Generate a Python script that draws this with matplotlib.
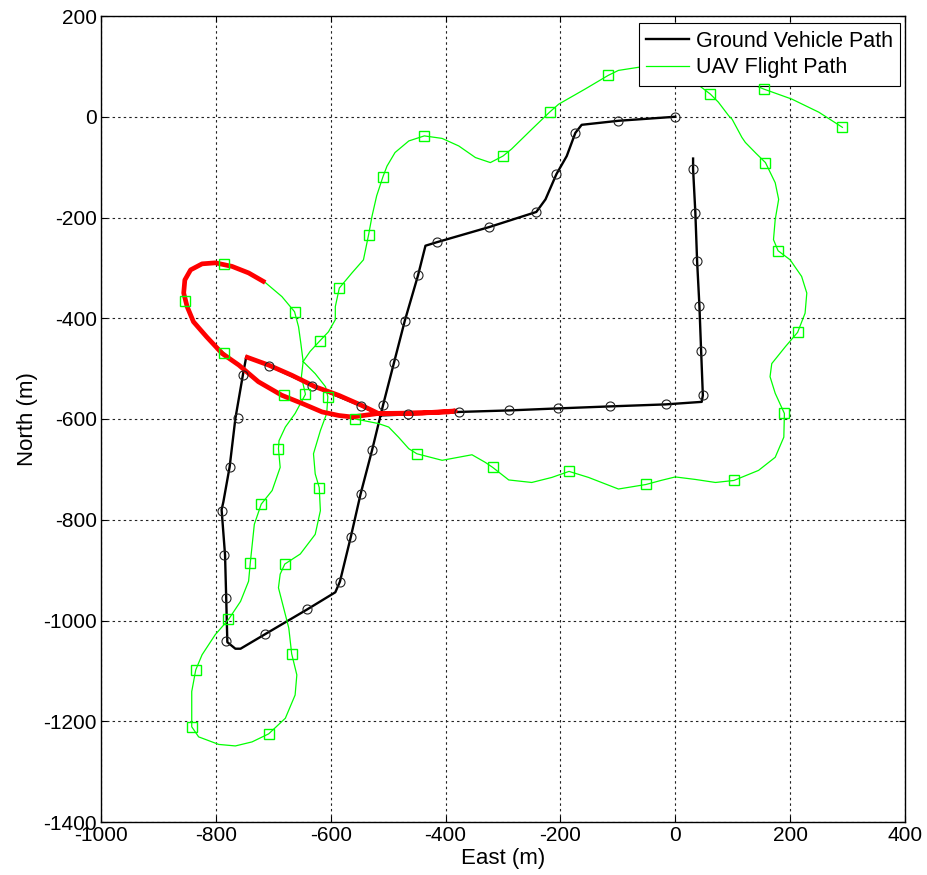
import numpy as np
import matplotlib
matplotlib.use("Agg")
import matplotlib.pyplot as plt

plt.rcParams['font.family'] = ['Liberation Sans', 'DejaVu Sans']
plt.rcParams['axes.unicode_minus'] = False

# Ground vehicle track (east, north in metres)
gv_east = [0, -99, -163, -174, -189, -207, -226, -242, -324, -415, -435, -448,
           -471, -490, -509, -528, -548, -565, -584, -592, -641, -714, -757,
           -766, -780, -782, -784, -790, -787, -776, -766, -753, -747, -708,
           -632, -547, -514, -466, -377, -290, -205, -114, -17, 46, 48, 45,
           42, 38, 35, 31, 31]
gv_north = [0, -8, -16, -32, -78, -114, -164, -189, -219, -249, -256, -315,
            -405, -489, -573, -662, -749, -834, -923, -944, -978, -1027, -1056,
            -1056, -1043, -955, -870, -780, -765, -695, -599, -513, -476, -494,
            -534, -574, -593, -591, -586, -583, -579, -575, -571, -566, -553,
            -465, -375, -287, -192, -104, -83]

# Sampled ground vehicle positions
gv_mark_east = [0, -100, -174, -207, -242, -324, -415, -448, -471, -490, -509,
                -528, -548, -565, -584, -641, -714, -783, -783, -785, -790,
                -776, -762, -753, -708, -632, -547, -466, -377, -290, -205,
                -114, -17, 48, 45, 42, 38, 35, 31]
gv_mark_north = [0, -9, -32, -114, -189, -219, -249, -315, -405, -489, -573,
                 -662, -749, -834, -923, -978, -1027, -1040, -955, -870, -782,
                 -695, -599, -513, -494, -534, -574, -591, -586, -583, -579,
                 -575, -571, -553, -465, -375, -287, -192, -104]

# UAV flight track
uav_east = [291, 250, 203, 154, 131, 115, 80, 50, 38, 61, 75, 93, 99, 116, 122,
            140, 157, 174, 180, 174, 171, 179, 200, 220, 229, 226, 213, 192,
            168, 165, 174, 190, 189, 174, 145, 102, 70, 35, 0, -25, -51, -99,
            -151, -185, -215, -250, -290, -318, -331, -354, -406, -450, -464,
            -482, -499, -517, -557, -586, -615, -650, -682, -726, -760, -786,
            -816, -839, -850, -853, -856, -854, -844, -824, -801, -785, -772,
            -743, -714, -685, -663, -656, -652, -648, -627, -609, -605, -607,
            -618, -630, -627, -620, -618, -627, -653, -680, -688, -691, -682,
            -673, -668, -659, -662, -679, -708, -737, -766, -795, -830, -842,
            -842, -835, -824, -801, -778, -757, -743, -740, -733, -721, -702,
            -688, -691, -690, -679, -662, -644, -651, -648, -636, -619, -604,
            -592, -592, -585, -563, -543, -534, -528, -520, -509, -502, -488,
            -464, -437, -406, -377, -348, -322, -300, -285, -250, -219, -203,
            -157, -117, -99, -65, -20]
uav_north = [-21, 9, 35, 55, 66, 90, 100, 85, 65, 45, 29, 2, -5, -41, -51,
             -72, -91, -131, -164, -204, -244, -266, -284, -317, -350, -390,
             -428, -456, -490, -516, -549, -589, -636, -676, -702, -722, -726,
             -720, -715, -722, -730, -739, -716, -704, -716, -726, -721, -696,
             -686, -671, -682, -669, -659, -636, -616, -609, -600, -593, -586,
             -569, -552, -526, -493, -468, -437, -407, -377, -365, -350, -324,
             -304, -292, -290, -292, -297, -310, -329, -357, -387, -417, -450,
             -486, -510, -536, -556, -589, -623, -669, -709, -736, -782, -829,
             -868, -888, -908, -935, -975, -1015, -1066, -1108, -1148, -1194,
             -1225, -1241, -1249, -1246, -1231, -1211, -1141, -1098, -1068,
             -1028, -998, -962, -922, -885, -809, -769, -742, -696, -659, -643,
             -616, -589, -551, -516, -486, -466, -445, -427, -403, -377, -340,
             -310, -284, -234, -197, -157, -119, -98, -71, -48, -38, -43, -58,
             -81, -91, -78, -64, -25, 9, 25, 55, 82, 92, 98, 105]

# Sampled UAV positions
uav_mark_east = [291, 154, 61, 157, 179, 213, 190, 102, -51, -185, -318, -450,
                 -557, -682, -786, -853, -785, -663, -605, -620, -680, -668,
                 -708, -842, -835, -778, -740, -721, -691, -644, -619, -585,
                 -534, -509, -437, -300, -219, -117]
uav_mark_north = [-21, 55, 45, -91, -266, -428, -589, -722, -730, -704, -696,
                  -669, -600, -552, -468, -365, -292, -387, -556, -736, -888,
                  -1066, -1225, -1211, -1098, -998, -885, -769, -659, -551,
                  -445, -340, -234, -119, -38, -78, 9, 82]

# Highlighted track segment
seg_east = [-714, -743, -772, -801, -824, -844, -854, -856, -850, -839, -816,
            -789, -760, -726, -685, -650, -615, -586, -563, -517, -482, -441,
            -395, -383, -441, -517, -546, -586, -627, -668, -708, -749]
seg_north = [-329, -310, -297, -290, -292, -304, -324, -350, -377, -407, -437,
             -470, -493, -526, -553, -569, -586, -593, -596, -589, -589, -588,
             -586, -584, -588, -589, -573, -553, -536, -513, -493, -476]

fig = plt.figure(figsize=(9.27, 8.75), dpi=100)
ax = fig.add_axes([101 / 927, 1 - 822 / 875, 804 / 927, 806 / 875])

ax.plot(gv_east, gv_north, color='black', lw=1.7, zorder=3,
        label='Ground Vehicle Path', solid_joinstyle='round')
ax.plot(uav_east, uav_north, color='#00ff00', lw=0.9, zorder=4,
        label='UAV Flight Path')
ax.plot(seg_east, seg_north, color='#ff0000', lw=3.4, zorder=5,
        solid_joinstyle='round', solid_capstyle='butt')
ax.plot(gv_mark_east, gv_mark_north, ls='none', marker='o', ms=6.5,
        mfc='none', mec='#222222', mew=0.8, zorder=6)
ax.plot(uav_mark_east, uav_mark_north, ls='none', marker='s', ms=6.8,
        mfc='none', mec='#00ff00', mew=1.0, zorder=6)

ax.set_xlim(-1000, 400)
ax.set_ylim(-1400, 200)
ax.set_xticks(np.arange(-1000, 401, 200))
ax.set_yticks(np.arange(-1400, 201, 200))
ax.grid(True, color='#222222', linestyle=(0, (2.2, 2.8)), linewidth=0.8)
ax.tick_params(direction='in', length=4, width=0.8, labelsize=15,
               top=True, right=True, pad=3)
for s in ax.spines.values():
    s.set_linewidth(1.0)
    s.set_color('black')

ax.set_xlabel('East (m)', fontsize=16, labelpad=2)
ax.set_ylabel('North (m)', fontsize=16, labelpad=4)

leg = ax.legend(loc='upper right', bbox_to_anchor=(0.994, 0.991),
                borderaxespad=0, fontsize=15.5, handlelength=2.0,
                handletextpad=0.3, borderpad=0.35, labelspacing=0.25,
                fancybox=False, framealpha=1, edgecolor='black')
leg.get_frame().set_linewidth(0.8)

fig.savefig('out.png', dpi=100)
